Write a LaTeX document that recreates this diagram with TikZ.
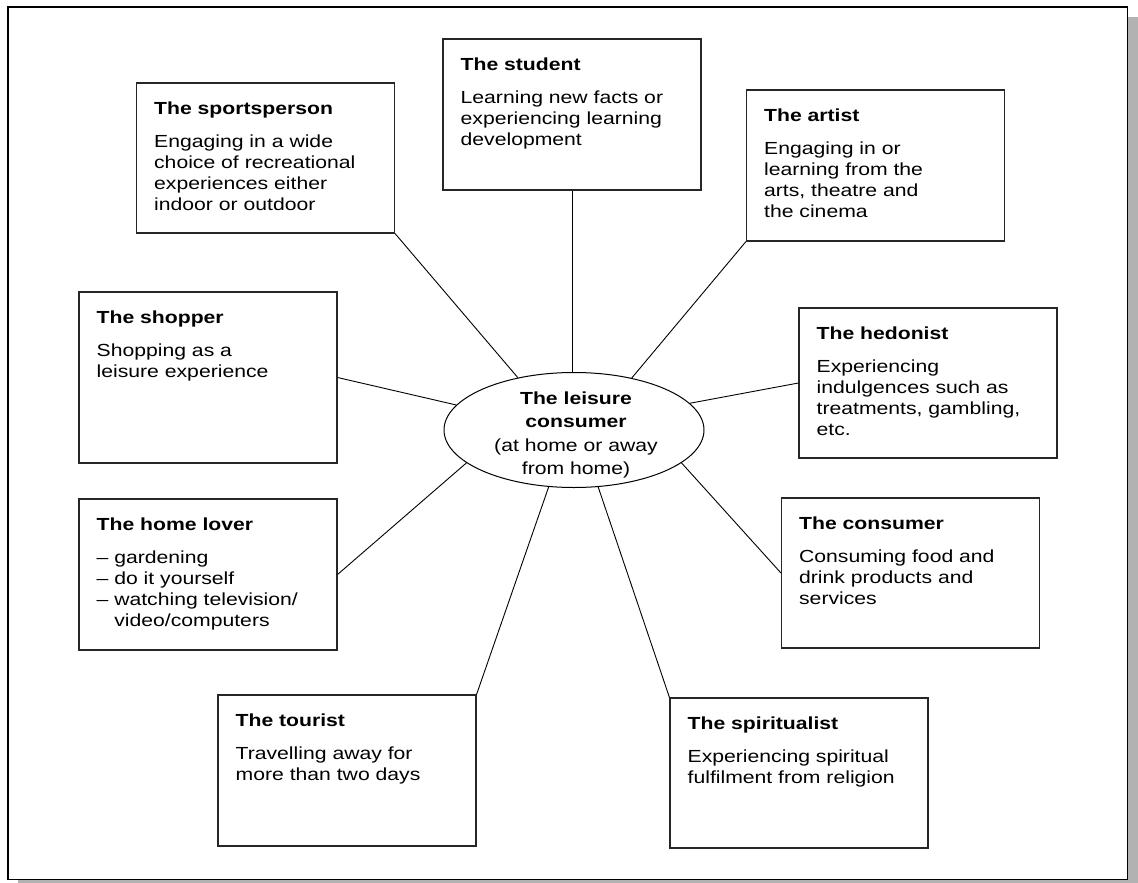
\documentclass[tikz,border=0pt]{standalone}
\usepackage{fontspec}
\setmainfont{Liberation Sans}[FakeStretch=1.21]
\usetikzlibrary{shapes.geometric}
\begin{document}
\begin{tikzpicture}[x=1pt,y=-1pt,
  bx/.style={draw=black!85, line width=1.1pt, rectangle, inner sep=0pt, minimum width=258pt, minimum height=#1},
  txt/.style={anchor=north west, inner sep=0pt, align=left, font=\fontsize{17.5}{21}\selectfont},
  conn/.style={draw=black, line width=0.9pt}
]
\useasboundingbox (0,0) rectangle (1138,883);
% frame with shadow
\fill[black!30] (18,17) rectangle (1138,883);
\draw[fill=white, line width=1.3pt] (8,7) rectangle (1127.5,879.5);

% boxes
\node[bx=150pt] (sport) at (265.5,158) {};
\node[bx=151pt] (student) at (572,114.5) {};
\node[bx=151pt] (artist) at (875.5,165.5) {};
\node[bx=171pt] (shopper) at (208,377.5) {};
\node[bx=151pt] (home) at (208,574.5) {};
\node[bx=150pt] (hedon) at (928,383) {};
\node[bx=150pt] (cons) at (910.5,573) {};
\node[bx=151pt] (tour) at (347,770.5) {};
\node[bx=150pt] (spirit) at (799,773) {};

% texts
\node[txt] (sportT) at ([shift={(18,19)}]sport.north west) {\bfseries The sportsperson\\[12pt]Engaging in a wide\\choice of recreational\\experiences either\\indoor or outdoor};
\node[txt] (studentT) at ([shift={(18,19)}]student.north west) {\bfseries The student\\[12pt]Learning new facts or\\experiencing learning\\development};
\node[txt] (artistT) at ([shift={(18,19)}]artist.north west) {\bfseries The artist\\[12pt]Engaging in or\\learning from the\\arts, theatre and\\the cinema};
\node[txt] (shopperT) at ([shift={(18,19)}]shopper.north west) {\bfseries The shopper\\[12pt]Shopping as a\\leisure experience};
\node[txt] (homeT) at ([shift={(18,19)}]home.north west) {\bfseries The home lover\\[12pt]– gardening\\– do it yourself\\– watching television/\\\hphantom{– }video/computers};
\node[txt] (hedonT) at ([shift={(18,19)}]hedon.north west) {\bfseries The hedonist\\[12pt]Experiencing\\indulgences such as\\treatments, gambling,\\etc.};
\node[txt] (consT) at ([shift={(18,19)}]cons.north west) {\bfseries The consumer\\[12pt]Consuming food and\\drink products and\\services};
\node[txt] (tourT) at ([shift={(18,19)}]tour.north west) {\bfseries The tourist\\[12pt]Travelling away for\\more than two days};
\node[txt] (spiritT) at ([shift={(18,19)}]spirit.north west) {\bfseries The spiritualist\\[12pt]Experiencing spiritual\\fulfilment from religion};

% centre ellipse
\node[draw=black, line width=1pt, ellipse, inner sep=0pt, minimum width=260pt, minimum height=115pt] (ell) at (574,430) {};
\node[inner sep=0pt, align=center, font=\fontsize{17.5}{23.5}\selectfont] (ellT) at (576,435) {\bfseries The leisure\\\bfseries consumer\\(at home or away\\from home)};

% connectors
\draw[conn] (sport.south east) -- (ell.137.6);
\draw[conn] (student.south) -- (student.south |- ell.north);
\draw[conn] (artist.south west) -- (ell.42);
\draw[conn] (shopper.east) -- (ell.168.4);
\draw[conn] (hedon.west) -- (ell.13.9);
\draw[conn] (cons.west) -- (ell.-17.6);
\draw[conn] (home.east) -- (ell.197.6);
\draw[conn] (tour.north east) -- (ell.246);
\draw[conn] (spirit.north west) -- (ell.293);
\end{tikzpicture}
\end{document}
